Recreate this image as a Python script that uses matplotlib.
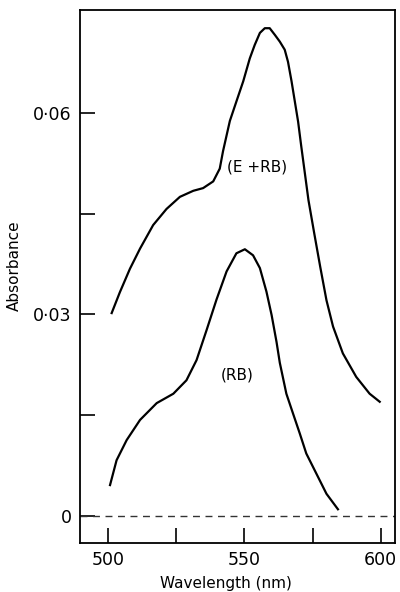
import matplotlib
matplotlib.use("Agg")
import matplotlib.pyplot as plt

# absorption spectra
wl_erb = [501.4, 504.4, 508.1, 511.8, 516.6, 521.5, 526.4, 531.3, 534.9, 538.6,
          541.0, 542.2, 544.7, 547.1, 549.6, 552.0, 553.8, 555.7, 557.5, 559.3,
          561.2, 563.0, 564.8, 566.0, 567.3, 568.5, 569.7, 570.8, 573.5, 575.6,
          577.8, 580.1, 582.5, 586.1, 591.0, 595.9, 599.6]
abs_erb = [0.0302, 0.0333, 0.0368, 0.0398, 0.0433, 0.0457, 0.0475, 0.0484, 0.0488, 0.0498,
           0.0517, 0.0543, 0.0588, 0.0617, 0.0647, 0.0681, 0.0701, 0.0719, 0.0726, 0.0726,
           0.0716, 0.0706, 0.0694, 0.0676, 0.0647, 0.0617, 0.0587, 0.0552, 0.0470, 0.0421,
           0.0371, 0.0321, 0.0282, 0.0242, 0.0207, 0.0182, 0.0170]

wl_rb = [500.8, 503.2, 506.9, 511.8, 517.9, 524.0, 528.8, 532.5, 536.2, 539.8,
         543.5, 547.1, 550.2, 553.2, 555.7, 558.1, 560.0, 561.8, 563.0, 565.4,
         567.8, 570.3, 572.7, 576.4, 580.1, 584.3]
abs_rb = [0.0046, 0.0083, 0.0113, 0.0143, 0.0168, 0.0182, 0.0202, 0.0232, 0.0277, 0.0322,
          0.0364, 0.0391, 0.0397, 0.0388, 0.0369, 0.0334, 0.0299, 0.0259, 0.0228, 0.0182,
          0.0153, 0.0123, 0.0093, 0.0063, 0.0033, 0.0010]

x_ticks = [500, 525, 550, 575, 600]
x_labels = ["500", "", "550", "", "600"]
y_ticks = [0, 0.015, 0.03, 0.045, 0.06]
y_labels = ["0", "", "0\u00b703", "", "0\u00b706"]

fig = plt.figure(figsize=(4, 5.92), dpi=100)
ax = fig.add_axes([0.2, 0.083, 0.7875, 0.9])

ax.plot(wl_erb, abs_erb, color="black", lw=1.6, solid_joinstyle="round")
ax.plot(wl_rb, abs_rb, color="black", lw=1.6, solid_joinstyle="round")
ax.axhline(0, color="#333333", lw=1.0, ls=(0, (5, 4)))

ax.text(543.5, 0.052, "(E +RB)", fontsize=11, va="center", ha="left")
ax.text(541.5, 0.021, "(RB)", fontsize=11, va="center", ha="left")

ax.set_xlim(489.8, 605.2)
ax.set_ylim(-0.004, 0.0753)
ax.set_xticks(x_ticks)
ax.set_xticklabels(x_labels)
ax.set_yticks(y_ticks)
ax.set_yticklabels(y_labels)
ax.tick_params(direction="in", length=11, width=1.2, labelsize=12.5, pad=6)

for s in ax.spines.values():
    s.set_linewidth(1.3)

ax.set_xlabel("Wavelength (nm)", fontsize=11)
ax.xaxis.set_label_coords(0.463, -0.062)
ax.set_ylabel("Absorbance", fontsize=11)
ax.yaxis.set_label_coords(-0.184, 0.52)

fig.savefig("out.png", dpi=100)
